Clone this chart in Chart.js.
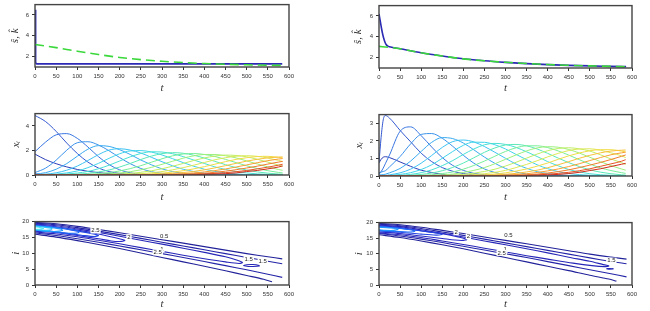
<!DOCTYPE html>
<html>
<head>
<meta charset="utf-8">
<script src="https://cdn.jsdelivr.net/npm/chart.js@4.4.1/dist/chart.umd.min.js"></script>
<style>
  html, body { margin: 0; padding: 0; background: #fff; }
  #page { position: relative; width: 650px; height: 311px; overflow: hidden; background: #fff; }
  #page canvas { position: absolute; }
</style>
</head>
<body>
<div id="page">
  <canvas id="skLeft"></canvas>
  <canvas id="skRight"></canvas>
  <canvas id="xiLeft"></canvas>
  <canvas id="xiRight"></canvas>
  <canvas id="ctLeft"></canvas>
  <canvas id="ctRight"></canvas>
</div>
<script>
// ---------- data ----------
const xTicks = [0, 50, 100, 150, 200, 250, 300, 350, 400, 450, 500, 550, 600];
const yTicksTop = [2, 4, 6];
const yTicksMidL = [0, 2, 4];
const yTicksMidR = [0, 1, 2, 3];
const yTicksBot = [0, 5, 10, 15, 20];

// top row: s-hat (blue) and k-hat (green dashed)
const tSLeft = [0, 1.5, 4, 50, 100, 200, 300, 400, 500, 584];
const sHatLeft = [6.5, 1.4, 1.3, 1.3, 1.3, 1.3, 1.3, 1.3, 1.3, 1.3];
const tKLeft = [0, 25, 50, 100, 150, 200, 250, 300, 350, 400, 450, 500, 550, 584];
const kHatLeft = [3.16, 3.02, 2.86, 2.52, 2.2, 1.92, 1.71, 1.55, 1.43, 1.33, 1.26, 1.21, 1.17, 1.15];

const tSRight = [0, 3, 6, 9, 12, 15, 18, 22, 30, 50, 100, 150, 200, 250, 300, 350, 400, 450, 500, 550, 586];
const sHatRight = [6.2, 5.5, 4.8, 4.2, 3.75, 3.4, 3.2, 3.08, 3.0, 2.85, 2.47, 2.16, 1.89, 1.69, 1.54, 1.42, 1.32, 1.25, 1.2, 1.16, 1.13];
const tKRight = [0, 25, 50, 100, 150, 200, 250, 300, 350, 400, 450, 500, 550, 586];
const kHatRight = [3.08, 2.98, 2.85, 2.46, 2.15, 1.88, 1.69, 1.55, 1.43, 1.33, 1.26, 1.2, 1.16, 1.12];

// middle row: x_i, listed from i = 20 down to i = 1
const tMidL = [0, 25, 50, 75, 100, 125, 150, 175, 200, 225, 250, 275, 300, 325, 350, 375, 400, 425, 450, 475, 500, 525, 550, 575, 585];
const xiValsLeft = [
  [0.08,0.01,0,0,0,0,0,0,0,0,0,0,0,0,0,0,0,0,0,0,0,0,0,0,0],
  [1.7,1.25,0.92,0.66,0.45,0.3,0.19,0.11,0.06,0.03,0.01,0,0,0,0,0,0,0,0,0,0,0,0,0,0],
  [4.85,4.35,3.55,2.6,1.75,1.05,0.57,0.28,0.13,0.05,0.02,0,0,0,0,0,0,0,0,0,0,0,0,0,0],
  [1.9,2.68,3.27,3.37,2.98,2.28,1.49,0.85,0.42,0.18,0.06,0.02,0.01,0,0,0,0,0,0,0,0,0,0,0,0],
  [0.2,0.56,1.21,2.02,2.63,2.71,2.44,1.97,1.42,0.92,0.53,0.27,0.13,0.05,0.02,0.01,0,0,0,0,0,0,0,0,0],
  [0.07,0.19,0.47,0.93,1.53,2.1,2.39,2.33,2.06,1.67,1.22,0.83,0.5,0.28,0.14,0.07,0.03,0.01,0,0,0,0,0,0,0],
  [0.03,0.07,0.18,0.39,0.73,1.18,1.66,2.03,2.14,2.03,1.79,1.44,1.08,0.75,0.47,0.28,0.15,0.07,0.03,0.01,0,0,0,0,0],
  [0.01,0.03,0.07,0.17,0.33,0.6,0.95,1.36,1.73,1.96,1.99,1.87,1.63,1.33,1.01,0.71,0.47,0.29,0.17,0.09,0.04,0.02,0.01,0,0],
  [0,0.01,0.03,0.08,0.16,0.29,0.51,0.8,1.14,1.48,1.75,1.89,1.87,1.73,1.5,1.22,0.94,0.66,0.45,0.28,0.17,0.09,0.05,0.02,0.02],
  [0,0,0.01,0.03,0.07,0.13,0.25,0.41,0.65,0.94,1.26,1.54,1.74,1.82,1.77,1.61,1.38,1.11,0.84,0.6,0.4,0.25,0.15,0.08,0.06],
  [0,0,0,0.01,0.03,0.05,0.11,0.19,0.33,0.52,0.76,1.04,1.32,1.56,1.71,1.75,1.67,1.51,1.27,1.01,0.75,0.53,0.35,0.21,0.17],
  [0,0,0,0,0.01,0.02,0.05,0.09,0.16,0.27,0.42,0.62,0.87,1.12,1.37,1.56,1.67,1.67,1.57,1.39,1.15,0.9,0.66,0.45,0.38],
  [0,0,0,0,0,0.01,0.02,0.04,0.07,0.13,0.22,0.34,0.51,0.71,0.94,1.18,1.39,1.54,1.62,1.59,1.48,1.28,1.05,0.81,0.71],
  [0,0,0,0,0,0,0.01,0.02,0.03,0.06,0.11,0.18,0.28,0.42,0.6,0.8,1.02,1.24,1.41,1.53,1.57,1.52,1.38,1.19,1.09],
  [0,0,0,0,0,0,0,0.01,0.02,0.03,0.05,0.09,0.15,0.24,0.35,0.5,0.68,0.88,1.09,1.27,1.41,1.5,1.52,1.44,1.39],
  [0,0,0,0,0,0,0,0,0.01,0.01,0.03,0.05,0.08,0.13,0.2,0.29,0.42,0.58,0.76,0.95,1.13,1.28,1.4,1.46,1.47],
  [0,0,0,0,0,0,0,0,0,0.01,0.01,0.02,0.04,0.07,0.11,0.17,0.25,0.36,0.49,0.65,0.82,1.0,1.17,1.3,1.34],
  [0,0,0,0,0,0,0,0,0,0,0.01,0.01,0.02,0.04,0.06,0.1,0.14,0.22,0.31,0.43,0.57,0.72,0.89,1.05,1.11],
  [0,0,0,0,0,0,0,0,0,0,0,0.01,0.01,0.02,0.03,0.05,0.08,0.13,0.19,0.27,0.37,0.5,0.64,0.8,0.88],
  [0,0,0,0,0,0,0,0,0,0,0,0,0,0.01,0.02,0.03,0.05,0.07,0.11,0.17,0.28,0.37,0.5,0.65,0.74]
];

const tMidR = [0, 5, 10, 15, 25, 50, 75, 100, 125, 150, 175, 200, 225, 250, 275, 300, 325, 350, 375, 400, 425, 450, 475, 500, 525, 550, 575, 585];
const xiValsRight = [
  [0.02,0.01,0,0,0,0,0,0,0,0,0,0,0,0,0,0,0,0,0,0,0,0,0,0,0,0,0,0],
  [0.75,0.95,1.07,1.1,1.05,0.8,0.55,0.33,0.2,0.1,0.05,0.02,0.01,0,0,0,0,0,0,0,0,0,0,0,0,0,0,0],
  [0.75,2.2,3.2,3.45,3.3,2.6,1.95,1.3,0.82,0.48,0.27,0.14,0.07,0.03,0.01,0,0,0,0,0,0,0,0,0,0,0,0,0],
  [0.1,0.25,0.45,0.7,1.2,2.55,2.8,2.3,1.65,1.05,0.6,0.32,0.15,0.07,0.03,0.01,0,0,0,0,0,0,0,0,0,0,0,0],
  [0.19,0.22,0.26,0.3,0.52,1.11,1.83,2.37,2.42,2.15,1.69,1.18,0.73,0.4,0.2,0.08,0.03,0.01,0,0,0,0,0,0,0,0,0,0],
  [0.06,0.07,0.08,0.1,0.18,0.43,0.85,1.4,1.92,2.19,2.13,1.88,1.49,1.08,0.72,0.43,0.23,0.11,0.05,0.02,0.01,0,0,0,0,0,0,0],
  [0.03,0.03,0.04,0.04,0.07,0.18,0.39,0.73,1.17,1.63,1.96,2.05,1.94,1.68,1.35,1.01,0.68,0.44,0.25,0.14,0.07,0.03,0.01,0,0,0,0,0],
  [0.01,0.01,0.01,0.01,0.03,0.09,0.19,0.37,0.64,1.01,1.4,1.75,1.93,1.92,1.78,1.54,1.23,0.93,0.64,0.42,0.25,0.14,0.08,0.04,0.02,0.01,0,0],
  [0,0,0,0,0.02,0.04,0.09,0.19,0.35,0.59,0.88,1.23,1.54,1.78,1.86,1.8,1.63,1.38,1.11,0.82,0.58,0.37,0.23,0.13,0.07,0.04,0.02,0.01],
  [0,0,0,0,0,0.02,0.04,0.09,0.17,0.3,0.49,0.74,1.04,1.35,1.6,1.77,1.8,1.72,1.54,1.29,1.02,0.76,0.54,0.35,0.22,0.13,0.07,0.05],
  [0,0,0,0,0,0,0.02,0.04,0.07,0.14,0.23,0.39,0.6,0.85,1.13,1.4,1.61,1.72,1.72,1.62,1.43,1.19,0.93,0.68,0.47,0.31,0.19,0.15],
  [0,0,0,0,0,0,0,0.01,0.03,0.06,0.11,0.2,0.32,0.48,0.7,0.95,1.2,1.43,1.6,1.67,1.64,1.51,1.31,1.07,0.82,0.59,0.4,0.33],
  [0,0,0,0,0,0,0,0,0.01,0.03,0.05,0.09,0.16,0.26,0.39,0.57,0.78,1.02,1.25,1.44,1.57,1.61,1.55,1.42,1.21,0.97,0.76,0.66],
  [0,0,0,0,0,0,0,0,0,0.01,0.02,0.04,0.08,0.13,0.21,0.32,0.48,0.66,0.87,1.09,1.29,1.45,1.54,1.55,1.47,1.32,1.15,1.05],
  [0,0,0,0,0,0,0,0,0,0,0.01,0.02,0.04,0.06,0.11,0.18,0.28,0.4,0.56,0.74,0.95,1.15,1.31,1.44,1.5,1.5,1.42,1.37],
  [0,0,0,0,0,0,0,0,0,0,0,0.01,0.02,0.04,0.06,0.1,0.15,0.23,0.33,0.47,0.64,0.82,1.01,1.18,1.32,1.42,1.47,1.48],
  [0,0,0,0,0,0,0,0,0,0,0,0,0,0.01,0.03,0.05,0.08,0.13,0.2,0.29,0.4,0.54,0.7,0.88,1.05,1.21,1.32,1.36],
  [0,0,0,0,0,0,0,0,0,0,0,0,0,0,0.01,0.03,0.05,0.07,0.11,0.17,0.25,0.35,0.48,0.62,0.77,0.94,1.12,1.2],
  [0,0,0,0,0,0,0,0,0,0,0,0,0,0,0,0.01,0.02,0.04,0.06,0.1,0.15,0.21,0.3,0.41,0.55,0.69,0.84,0.93],
  [0,0,0,0,0,0,0,0,0,0,0,0,0,0,0,0,0.01,0.02,0.04,0.06,0.09,0.14,0.21,0.31,0.41,0.54,0.67,0.72]
];

// bottom row: contour lines of x_i over (t, i), as [t, i] points
const contourLevelsL = [0.5, 1, 0.5, 1, 1.5, 1.5, 2, 2.5, 3, 3.5, 4, 4.5];
const contoursL = [
  [[0,19.75],[50,19.3],[100,18.5],[150,17.5],[200,16.5],[250,15.4],[300,14.3],[350,13.2],[400,12.1],[450,11.0],[500,9.9],[550,8.9],[584,8.25]],
  [[0,19.5],[50,19.0],[100,18.1],[150,17.0],[200,15.9],[250,14.7],[300,13.5],[350,12.3],[400,11.1],[450,9.9],[500,8.7],[550,7.5],[584,6.7]],
  [[0,16.0],[50,15.1],[100,14.0],[150,12.8],[200,11.5],[250,10.1],[300,8.7],[350,7.3],[400,5.9],[450,4.5],[500,3.0],[540,1.8],[560,1.0]],
  [[0,16.4],[50,15.6],[100,14.6],[150,13.5],[200,12.3],[250,11.1],[300,9.9],[350,8.7],[400,7.4],[450,6.1],[500,4.8],[550,3.4],[584,2.4]],
  [[0,19.25],[50,18.7],[100,17.7],[150,16.6],[200,15.4],[250,14.1],[300,12.9],[350,11.6],[400,10.3],[450,8.9],[478,7.8],[490,7.1],[482,6.8],[450,7.3],[400,8.3],[350,9.4],[300,10.6],[250,11.8],[200,13.0],[150,14.1],[100,15.2],[50,16.1],[0,16.7]],
  [[492,6.15],[500,6.4],[515,6.45],[528,6.25],[530,6.0],[515,5.85],[500,5.9],[492,6.15]],
  [[0,19.05],[50,18.4],[100,17.3],[150,16.1],[190,14.9],[212,14.1],[205,13.75],[180,13.9],[150,14.6],[100,15.6],[50,16.5],[0,17.0]],
  [[0,18.85],[50,18.15],[100,17.0],[135,16.2],[150,15.6],[140,15.3],[110,15.7],[80,16.2],[50,16.8],[0,17.3]],
  [[0,18.75],[40,18.3],[80,17.6],[105,16.9],[100,16.4],[70,16.4],[40,16.8],[0,17.3]],
  [[0,18.65],[30,18.3],[60,17.7],[65,17.2],[45,16.9],[20,17.0],[0,17.4]],
  [[0,18.5],[20,18.3],[40,17.8],[35,17.3],[15,17.3],[0,17.5]],
  [[0,18.35],[12,18.1],[20,17.8],[10,17.55],[0,17.65]]
];
const labelTextL = ['2.5', '2', '0.5', '1', '2.5', '1.5', '1.5'];
const labelTL = [143, 222, 305, 300, 290, 505, 538];
const labelIL = [17.2, 15.1, 15.5, 11.3, 10.3, 8.2, 7.5];

const contourLevelsR = [0.5, 1, 0.5, 1, 1.5, 1.5, 2, 2.5, 3, 3.5];
const contoursR = [
  [[0,19.75],[50,19.3],[100,18.5],[150,17.5],[200,16.5],[250,15.4],[300,14.3],[350,13.2],[400,12.1],[450,11.0],[500,9.9],[550,8.95],[587,8.3]],
  [[0,19.5],[50,19.0],[100,18.1],[150,17.0],[200,15.9],[250,14.7],[300,13.5],[350,12.3],[400,11.1],[450,9.9],[500,8.7],[550,7.55],[587,6.8]],
  [[0,16.1],[50,15.2],[100,14.1],[150,12.9],[200,11.6],[250,10.2],[300,8.8],[350,7.4],[400,6.0],[450,4.6],[500,3.1],[545,1.9],[563,1.25]],
  [[0,16.5],[50,15.7],[100,14.7],[150,13.6],[200,12.4],[250,11.2],[300,10.0],[350,8.8],[400,7.5],[450,6.2],[500,4.9],[550,3.6],[587,2.6]],
  [[0,19.25],[50,18.7],[100,17.7],[150,16.6],[200,15.4],[250,14.1],[300,12.9],[350,11.6],[400,10.3],[450,8.9],[500,7.6],[530,6.6],[545,6.1],[535,5.9],[505,6.2],[460,7.0],[400,8.3],[350,9.4],[300,10.6],[250,11.8],[200,13.0],[150,14.1],[100,15.2],[50,16.1],[0,16.7]],
  [[539,5.2],[547,5.3],[556,5.2],[547,5.1],[539,5.2]],
  [[0,19.05],[50,18.4],[100,17.4],[150,16.4],[185,15.5],[208,14.6],[200,14.3],[180,14.4],[150,14.9],[100,15.7],[50,16.5],[0,17.0]],
  [[0,18.85],[50,18.2],[100,17.3],[140,16.6],[150,16.2],[135,16.0],[100,16.3],[50,16.9],[0,17.3]],
  [[0,18.7],[40,18.3],[75,17.7],[85,17.3],[70,17.0],[40,17.2],[0,17.5]],
  [[0,18.55],[25,18.3],[45,17.9],[35,17.5],[15,17.5],[0,17.7]]
];
const labelTextR = ['2', '2', '0.5', '1', '2.5', '1.5'];
const labelTR = [183, 212, 307, 299, 291, 551];
const labelIR = [16.9, 15.6, 15.9, 11.3, 10.3, 7.8];

// ---------- styling ----------
const midColors = ['#1e2a9e','#2a3db8','#3459d0','#3a76e0','#3a92ea','#3aaaf0','#3ec2f2','#40d4ea','#48e0d4','#5ae8b8',
                   '#78ee98','#9cf07c','#c0ee64','#dce858','#f0dc48','#f8c03c','#f8a034','#f07c2c','#e85424','#d42c1c'];
const levelColor = {0.5:'#22229a', 1:'#2424a8', 1.5:'#2626b8', 2:'#2a2ac8', 2.5:'#2244e0', 3:'#1f6cf8', 3.5:'#2098ff', 4:'#28c4ff', 4.5:'#50e6f2'};
const AX = '#333';
const YW = 35, PT = 5, PR = 12;
const tickFont = {family: 'Liberation Sans, Arial, sans-serif', size: 6};
const titleFont = {family: 'Liberation Serif, DejaVu Serif, serif', size: 11, style: 'italic'};

const xy = (ts, vs) => ts.map((t, k) => ({x: t, y: vs[k]}));
const pts = list => list.map(p => ({x: p[0], y: p[1]}));

const framePlugin = {
  id: 'frame',
  afterDatasetsDraw(chart) {
    const {ctx, chartArea: a} = chart;
    ctx.save();
    ctx.strokeStyle = '#444';
    ctx.lineWidth = 1.4;
    ctx.strokeRect(a.left, a.top, a.right - a.left, a.bottom - a.top);
    ctx.restore();
  }
};

function labelPlugin(texts, ts, is) {
  return {
    id: 'clabels',
    afterDatasetsDraw(chart) {
      const {ctx, scales: {x, y}} = chart;
      ctx.save();
      ctx.font = '6px Liberation Sans, Arial, sans-serif';
      ctx.textAlign = 'center';
      ctx.textBaseline = 'middle';
      texts.forEach((s, k) => {
        const px = x.getPixelForValue(ts[k]), py = y.getPixelForValue(is[k]);
        const w = ctx.measureText(s).width + 2;
        ctx.fillStyle = '#fff';
        ctx.fillRect(px - w / 2, py - 3, w, 6);
        ctx.fillStyle = '#222';
        ctx.fillText(s, px, py);
      });
      ctx.restore();
    }
  };
}

function panel(id, g, datasets, y, extra) {
  const cv = document.getElementById(id);
  const W = YW + g.w + PR, H = PT + g.h + g.xh;
  cv.width = W; cv.height = H;
  cv.style.left = (g.x - YW) + 'px';
  cv.style.top = (g.y - PT) + 'px';
  cv.style.width = W + 'px';
  cv.style.height = H + 'px';
  const grid = {drawOnChartArea: false, drawTicks: true, tickLength: 3, color: AX, lineWidth: 1};
  // later series are drawn on top, as in the original plot
  datasets.forEach((d, k) => { d.order = -k; });
  return new Chart(cv, {
    type: 'line',
    data: {datasets},
    options: {
      responsive: false,
      animation: false,
      devicePixelRatio: 1,
      layout: {padding: {top: PT, right: PR, left: 0, bottom: 0}},
      plugins: {legend: {display: false}, tooltip: {enabled: false}},
      elements: {point: {radius: 0}},
      scales: {
        x: {
          type: 'linear', min: 0, max: 600,
          afterBuildTicks: s => { s.ticks = xTicks.map(v => ({value: v})); },
          afterFit: s => { s.height = g.xh; },
          grid, border: {display: false},
          ticks: {font: tickFont, color: AX, padding: 3, maxRotation: 0, autoSkip: false},
          title: {display: true, text: 't', font: titleFont, color: AX, padding: {top: 0, bottom: g.tb}}
        },
        y: {
          type: 'linear', min: y.min, max: y.max,
          afterBuildTicks: s => { s.ticks = y.ticks.map(v => ({value: v})); },
          afterFit: s => { s.width = YW; },
          grid, border: {display: false},
          ticks: {font: tickFont, color: AX, padding: 3},
          title: {display: true, text: y.title, font: titleFont, color: AX, padding: {top: g.tl, bottom: 0}}
        }
      }
    },
    plugins: [framePlugin].concat(extra || [])
  });
}

const lineSet = (data, color, width, extra) => Object.assign({
  data, borderColor: color, borderWidth: width, pointRadius: 0, fill: false, tension: 0
}, extra || {});

// ---------- top row ----------
panel('skLeft', {x: 35, y: 3, w: 254, h: 64, xh: 30, tb: 2.4, tl: 8.6}, [
  lineSet(xy(tSLeft, sHatLeft), '#2a2ab4', 1.6),
  lineSet(xy(tKLeft, kHatLeft), '#3ad83a', 1.6, {borderDash: [9, 5], cubicInterpolationMode: 'monotone'})
], {min: 1, max: 7, ticks: yTicksTop, title: 'ŝ, k̂'});

panel('skRight', {x: 379, y: 4, w: 253, h: 64, xh: 30, tb: 3.4, tl: 7.6}, [
  lineSet(xy(tSRight, sHatRight), '#2a2ab4', 1.6, {cubicInterpolationMode: 'monotone'}),
  lineSet(xy(tKRight, kHatRight), '#3ad83a', 1.6, {borderDash: [9, 5], cubicInterpolationMode: 'monotone'})
], {min: 1, max: 7, ticks: yTicksTop, title: 'ŝ, k̂'});

// ---------- middle row ----------
panel('xiLeft', {x: 35, y: 112, w: 254, h: 63, xh: 30, tb: 1.4, tl: 9.4},
  xiValsLeft.map((vs, k) => lineSet(xy(tMidL, vs), midColors[k], 1, {cubicInterpolationMode: 'monotone'})),
  {min: 0, max: 5, ticks: yTicksMidL, title: 'xᵢ'});

panel('xiRight', {x: 379, y: 113, w: 253, h: 63, xh: 30, tb: 2, tl: 8.4},
  xiValsRight.map((vs, k) => lineSet(xy(tMidR, vs), midColors[k], 1, {cubicInterpolationMode: 'monotone'})),
  {min: 0, max: 3.5, ticks: yTicksMidR, title: 'xᵢ'});

// ---------- bottom row ----------
panel('ctLeft', {x: 35, y: 220, w: 254, h: 65, xh: 27, tb: 1.4, tl: 9.4},
  contoursL.map((c, k) => lineSet(pts(c), levelColor[contourLevelsL[k]], 1.1, {tension: 0.3})),
  {min: 0, max: 20, ticks: yTicksBot, title: 'i'},
  [labelPlugin(labelTextL, labelTL, labelIL)]);

panel('ctRight', {x: 379, y: 221, w: 253, h: 64, xh: 27, tb: 1.4, tl: 8.4},
  contoursR.map((c, k) => lineSet(pts(c), levelColor[contourLevelsR[k]], 1.1, {tension: 0.3})),
  {min: 0, max: 20, ticks: yTicksBot, title: 'i'},
  [labelPlugin(labelTextR, labelTR, labelIR)]);
</script>
</body>
</html>
